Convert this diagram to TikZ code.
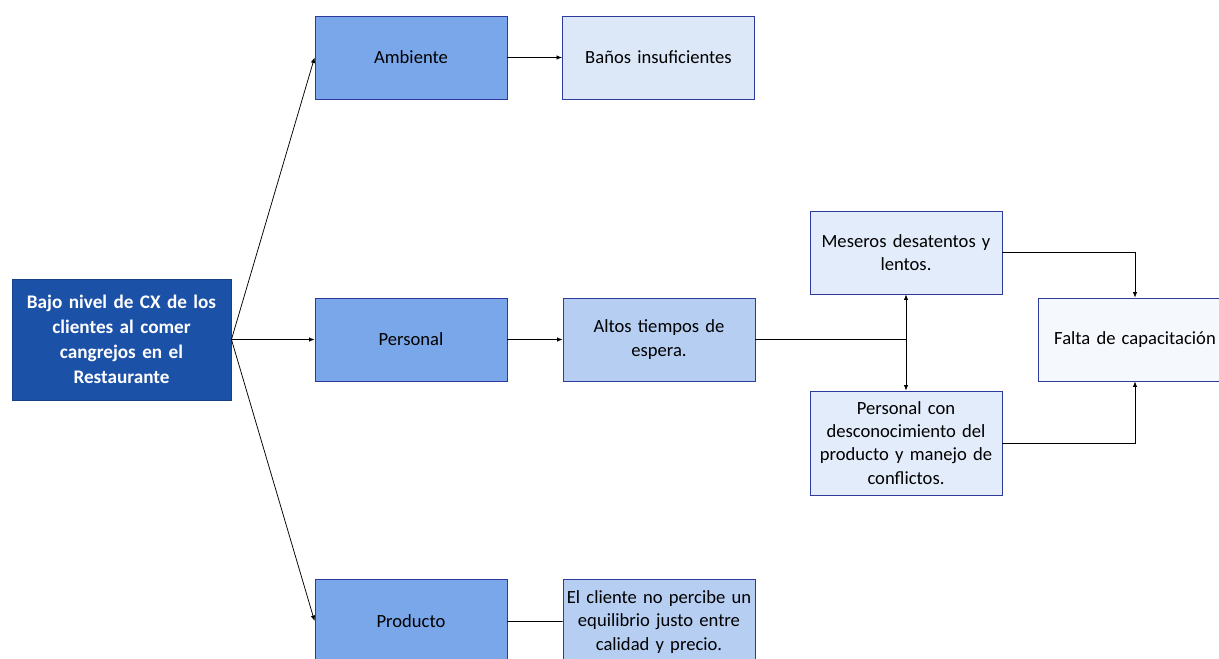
\documentclass[tikz,border=0pt]{standalone}
\usepackage{fontspec}
\setmainfont{Carlito}
\usetikzlibrary{arrows.meta}
\definecolor{rootfill}{HTML}{1C51A8}
\definecolor{rootline}{HTML}{163F85}
\definecolor{midfill}{HTML}{7AA7E9}
\definecolor{softfill}{HTML}{B5CEF2}
\definecolor{palefill}{HTML}{DCE7F8}
\definecolor{lightfill}{HTML}{E3ECFA}
\definecolor{whitefill}{HTML}{F5F8FD}
\definecolor{boxline}{HTML}{2E3A9C}
\begin{document}
\begin{tikzpicture}[x=1pt,y=-1pt,
  box/.style={draw=boxline, line width=0.9pt, minimum width=192pt, minimum height=83pt,
    inner sep=2pt, text width=188pt, align=center, font=\fontsize{18.6}{23.2}\selectfont, text=black},
  rootbox/.style={draw=rootline, line width=0.9pt, fill=rootfill, minimum width=219pt, minimum height=121pt,
    text width=212pt, align=center, text=white, font=\bfseries\fontsize{19.2}{24.8}\selectfont},
  link/.style={draw=black, line width=0.75pt},
  arr/.style={link, -{Latex[length=5.5pt,width=4.5pt]}}]
\useasboundingbox (0,0) rectangle (1219,659);
\clip (0,0) rectangle (1219,659);
% root cause
\node[rootbox] (root) at (121.5,339.5) {Bajo nivel de CX de los\\clientes al comer\\cangrejos en el\\Restaurante};
% categories
\node[box, fill=midfill] (amb) at (411,57.5) {Ambiente};
\node[box, fill=midfill] (per) at (411,339.5) {Personal};
\node[box, fill=midfill] (pro) at (411,621) {Producto};
% causes
\node[box, fill=palefill] (ban) at (658.5,57.5) {Baños insuficientes};
\node[box, fill=softfill] (alt) at (659,339.5) {Altos tiempos de\\espera.};
\node[box, fill=softfill, minimum height=86pt] (cli) at (659,622) {El cliente no percibe un\\equilibrio justo entre\\calidad y precio.};
\node[box, fill=lightfill] (mes) at (906,252.5) {Meseros desatentos y\\lentos.};
\node[box, fill=lightfill, minimum height=104pt] (pcd) at (906,443) {Personal con\\desconocimiento del\\producto y manejo de\\conflictos.};
\node[box, fill=whitefill, minimum width=194pt, text width=188pt] (fal) at (1135,339.5) {Falta de capacitación};
% connectors
\draw[arr] (root.east) -- (amb.west);
\draw[arr] (root.east) -- (per.west);
\draw[arr] (root.east) -- (pro.west);
\draw[arr] (amb) -- (ban);
\draw[arr] (per) -- (alt);
\draw[link] (pro) -- (cli);
\coordinate (split) at (mes.south |- alt.east);
\draw[link] (alt.east) -- (split);
\draw[arr] (split) -- (mes.south);
\draw[arr] (split) -- (pcd.north);
\draw[arr] (mes.east) -| (fal.north);
\draw[arr] (pcd.east) -| (fal.south);
\end{tikzpicture}
\end{document}
